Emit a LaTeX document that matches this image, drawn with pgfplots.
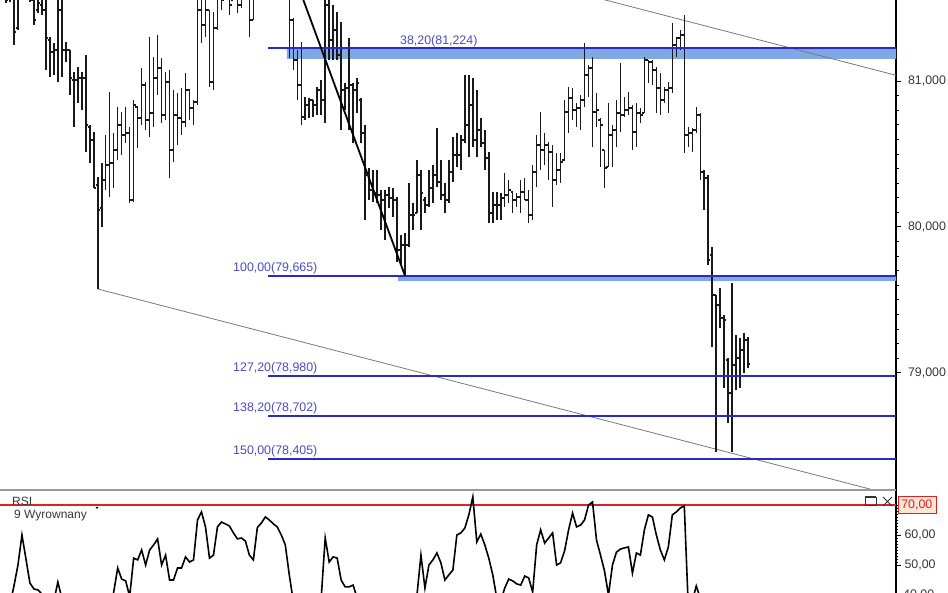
\documentclass[border=0pt]{standalone}
\usepackage{fontspec}
\setmainfont{Liberation Sans}
\usepackage{pgfplots}
\usepackage{pgfplotstable}
\pgfplotsset{compat=1.18}

\definecolor{fibline}{RGB}{40,40,205}
\definecolor{fibband}{RGB}{128,168,228}
\definecolor{fibtext}{RGB}{75,75,200}
\definecolor{channel}{RGB}{120,120,120}
\definecolor{rsired}{RGB}{220,35,35}
\definecolor{boxfill}{RGB}{253,230,214}
\definecolor{ticktext}{RGB}{55,55,55}
\definecolor{barcol}{RGB}{25,25,25}

% OHLC ticks: open to the left, close to the right
\pgfdeclareplotmark{ohlcopen}{%
  \pgfpathmoveto{\pgfqpoint{-2.2pt}{0pt}}\pgfpathlineto{\pgfqpoint{0pt}{0pt}}\pgfusepathqstroke}
\pgfdeclareplotmark{ohlcclose}{%
  \pgfpathmoveto{\pgfqpoint{0pt}{0pt}}\pgfpathlineto{\pgfqpoint{2.2pt}{0pt}}\pgfusepathqstroke}

% bar index, high, low, open, close
\pgfplotstableread{
i h l o c
0 81.693 81.569 81.610 81.638
1 81.638 81.535 81.624 81.555
2 81.693 81.542 81.569 81.658
3 81.610 81.247 81.590 81.336
4 81.658 81.350 81.363 81.624
5 81.761 81.576 81.610 81.727
6 81.747 81.590 81.727 81.624
7 81.693 81.542 81.638 81.555
8 81.610 81.384 81.555 81.418
9 81.597 81.466 81.487 81.535
10 81.576 81.453 81.521 81.487
11 81.569 81.076 81.487 81.295
12 81.302 81.027 81.281 81.199
13 81.261 81.041 81.199 81.213
14 81.590 80.993 81.213 81.487
15 81.569 81.027 81.487 81.213
16 81.267 81.130 81.213 81.213
17 81.213 80.904 81.213 81.021
18 81.062 80.685 81.007 81.007
19 81.096 80.849 81.007 81.021
20 81.062 80.801 81.021 81.021
21 81.178 80.513 81.021 80.698
22 80.698 80.438 80.685 80.596
23 80.650 80.266 80.596 80.266
24 80.342 79.574 80.287 80.116
25 80.438 79.999 80.129 80.321
26 80.630 80.253 80.321 80.424
27 80.925 80.205 80.424 80.438
28 80.644 80.266 80.438 80.527
29 80.822 80.458 80.527 80.698
30 80.788 80.493 80.698 80.630
31 80.822 80.575 80.630 80.644
32 80.685 80.164 80.644 80.184
33 80.870 80.170 80.184 80.836
34 80.822 80.541 80.822 80.746
35 81.089 80.698 80.746 80.973
36 80.993 80.664 80.973 80.733
37 81.302 80.616 80.733 80.781
38 81.165 80.685 80.781 81.021
39 81.315 80.904 81.021 81.089
40 81.158 80.712 81.089 80.767
41 81.062 80.733 80.767 80.993
42 81.076 80.335 80.993 80.527
43 80.938 80.445 80.527 80.767
44 80.918 80.561 80.767 80.746
45 80.952 80.630 80.746 80.719
46 81.055 80.685 80.719 80.938
47 80.938 80.733 80.938 80.815
48 80.870 80.698 80.815 80.856
49 81.590 80.836 80.856 81.487
50 81.624 81.261 81.487 81.384
51 81.658 81.302 81.384 81.487
52 81.487 80.959 81.487 80.993
53 81.473 80.938 80.993 81.363
54 81.624 81.350 81.363 81.590
55 81.658 81.487 81.590 81.555
56 81.727 81.569 81.590 81.693
57 81.624 81.453 81.624 81.521
58 81.693 81.555 81.555 81.658
59 81.610 81.466 81.610 81.521
60 81.658 81.501 81.521 81.624
61 81.727 81.576 81.624 81.693
62 81.624 81.302 81.624 81.418
63 81.658 81.418 81.418 81.624
64 81.830 81.590 81.624 81.795
65 81.967 81.693 81.795 81.933
66 82.104 81.795 81.933 82.070
67 82.188 81.830 82.070 81.898
68 82.070 81.761 81.898 81.830
69 82.001 81.727 81.830 81.761
70 81.933 81.658 81.761 81.693
71 81.864 81.590 81.693 81.624
72 81.693 81.158 81.624 81.418
73 81.432 81.076 81.418 81.144
74 81.213 80.870 81.144 80.973
75 81.267 80.698 80.973 80.753
76 80.890 80.733 80.753 80.836
77 80.884 80.746 80.836 80.870
78 80.870 80.753 80.870 80.836
79 80.959 80.767 80.836 80.938
80 81.007 80.767 80.938 80.870
81 81.590 80.712 80.870 81.521
82 81.610 81.144 81.521 81.281
83 81.521 81.144 81.281 81.350
84 81.473 81.144 81.350 81.178
85 81.405 80.664 81.178 80.938
86 80.986 80.801 80.938 80.952
87 81.295 80.664 80.952 80.973
88 80.986 80.575 80.973 80.938
89 81.021 80.781 80.938 80.986
90 80.884 80.575 80.870 80.644
91 80.698 80.047 80.644 80.356
92 80.404 80.184 80.356 80.253
93 80.390 80.170 80.253 80.232
94 80.390 80.164 80.232 80.218
95 80.253 79.978 80.218 80.184
96 80.253 79.910 80.184 80.218
97 80.273 80.129 80.218 80.198
98 80.266 80.068 80.198 80.184
99 80.205 79.759 80.184 79.841
100 79.944 79.738 79.841 79.876
101 79.958 79.665 79.876 79.876
102 80.301 79.862 79.876 80.081
103 80.164 79.978 80.081 80.081
104 80.458 80.095 80.095 80.356
105 80.390 79.978 80.356 80.232
106 80.205 80.095 80.184 80.150
107 80.390 80.136 80.150 80.266
108 80.424 80.164 80.266 80.356
109 80.678 80.273 80.356 80.308
110 80.458 80.184 80.308 80.218
111 80.301 80.095 80.218 80.184
112 80.458 80.164 80.184 80.376
113 80.616 80.308 80.376 80.493
114 80.644 80.410 80.493 80.493
115 80.630 80.390 80.493 80.596
116 81.041 80.575 80.596 80.698
117 81.041 80.479 80.698 80.836
118 81.021 80.548 80.836 80.596
119 80.938 80.479 80.596 80.664
120 80.746 80.548 80.664 80.575
121 80.664 80.390 80.575 80.472
122 80.513 80.026 80.472 80.095
123 80.239 80.026 80.095 80.150
124 80.239 80.047 80.150 80.150
125 80.232 80.047 80.150 80.198
126 80.369 80.136 80.198 80.218
127 80.321 80.164 80.218 80.253
128 80.239 80.095 80.239 80.184
129 80.232 80.136 80.184 80.205
130 80.321 80.095 80.205 80.239
131 80.335 80.184 80.239 80.184
132 80.253 80.026 80.184 80.081
133 80.424 80.047 80.081 80.376
134 80.630 80.273 80.376 80.561
135 80.788 80.390 80.561 80.527
136 80.644 80.424 80.527 80.561
137 80.582 80.321 80.561 80.513
138 80.561 80.136 80.513 80.321
139 80.506 80.287 80.321 80.390
140 80.506 80.301 80.390 80.445
141 80.870 80.458 80.458 80.788
142 80.959 80.644 80.788 80.884
143 80.952 80.733 80.884 80.801
144 80.849 80.685 80.801 80.815
145 80.904 80.664 80.815 80.870
146 81.261 80.822 80.870 81.041
147 81.110 80.890 81.041 81.089
148 81.165 80.548 81.089 80.788
149 80.918 80.685 80.788 80.801
150 80.746 80.410 80.733 80.698
151 80.527 80.266 80.527 80.404
152 80.849 80.410 80.410 80.630
153 80.698 80.410 80.630 80.664
154 80.870 80.548 80.664 80.781
155 81.123 80.650 80.781 80.767
156 80.890 80.753 80.767 80.801
157 80.925 80.767 80.801 80.815
158 80.836 80.527 80.815 80.650
159 80.849 80.548 80.650 80.781
160 80.815 80.712 80.781 80.767
161 81.165 80.781 80.781 81.144
162 81.144 80.986 81.144 81.130
163 81.144 80.973 81.130 81.076
164 81.096 80.781 81.076 80.952
165 81.055 80.767 80.952 80.870
166 80.959 80.849 80.870 80.938
167 80.993 80.781 80.938 80.952
168 81.398 80.918 80.952 81.247
169 81.302 81.165 81.247 81.295
170 81.350 81.213 81.295 81.315
171 81.453 80.506 81.315 80.630
172 80.685 80.548 80.630 80.644
173 80.678 80.513 80.644 80.664
174 80.822 80.644 80.664 80.767
175 80.781 80.321 80.767 80.376
176 80.390 80.116 80.376 80.335
177 80.356 79.738 80.335 79.773
178 79.862 79.176 79.807 79.533
179 79.533 78.456 79.533 79.464
180 79.581 79.307 79.464 79.375
181 79.396 78.895 79.375 79.361
182 79.101 78.655 79.087 78.861
183 79.615 78.456 78.861 79.053
184 79.259 78.881 79.053 79.101
185 79.238 78.895 79.101 79.156
186 79.272 78.998 79.156 79.224
187 79.245 79.032 79.224 79.060
}\ohlc

% RSI(9), smoothed
\pgfplotstableread{
i r
0 35
1 36
2 37
3 43
4 50
5 60
6 52
7 44
8 42
9 41.7
10 40.3
11 38
12 36
13 38
14 44.3
15 39
16 36
17 33
18 30
19 31
20 30
21 27
22 25
23 22
24 20
25 24
26 28
27 34
28 41
29 49
30 45.3
31 44.7
32 39.5
33 52.3
34 51.7
35 55
36 50
37 55
38 56.7
39 58.7
40 50
41 53.3
42 45
43 45
44 49
45 49
46 52.7
47 51
48 51.7
49 65
50 67.7
51 62.7
52 52.3
53 53.3
54 62.7
55 64.3
56 63.7
57 63
58 60.7
59 58.7
60 59
61 58
62 53.3
63 51.7
64 62.5
65 64
66 66
67 65
68 63.7
69 62.7
70 60
71 56.7
72 46.7
73 38
74 35
75 33
76 32
77 33
78 34
79 36
80 39
81 59
82 51
83 52.7
84 52.3
85 45
86 42.7
87 42.7
88 43.3
89 39
90 35
91 32
92 30
93 30
94 29
95 28
96 28
97 30
98 28
99 26
100 25
101 24
102 30
103 34
104 40
105 53.3
106 42.3
107 50
108 51.7
109 54
110 50.7
111 45
112 46.7
113 48.3
114 60
115 60.7
116 62.3
117 66.7
118 72.7
119 57.7
120 60.3
121 56.7
122 52.3
123 46.7
124 39
125 38
126 42.3
127 45.3
128 44.7
129 43.7
130 43.3
131 46.3
132 45.7
133 41
134 56.7
135 61.7
136 57.3
137 59
138 60.7
139 50
140 50.7
141 54.7
142 61.7
143 67.3
144 62.7
145 63.3
146 65
147 70
148 71
149 58.3
150 53.3
151 48
152 40
153 50
154 54.3
155 55.3
156 55.7
157 56
158 47.3
159 54
160 53.3
161 61.7
162 66.7
163 66
164 60
165 55
166 51.7
167 56
168 66.7
169 67.7
170 69
171 69.7
172 36
173 38
174 43
175 39
176 37
177 25
178 20
179 15
180 18
181 17
182 15
183 20
184 22
185 23
186 24
187 24
}\rsi

\pgfplotsset{
  panel/.style={
    scale only axis, width=896pt,
    xmin=-0.501, xmax=224.06,
    axis x line=none, axis y line=right,
    axis line style={-, black, line width=1.1pt},
    tick align=outside,
    major tick length=5pt, minor tick length=2.5pt,
    every tick/.style={black, line width=0.7pt},
    yticklabel style={font=\fontsize{12.4}{14}\selectfont, text=ticktext},
  },
}

\begin{document}
\begin{tikzpicture}
\path[use as bounding box] (0,0) rectangle (948pt,593pt);
\clip (0,0) rectangle (948pt,593pt);

% ---------- price panel ----------
\begin{axis}[panel,
  at={(0pt,103pt)}, anchor=south west, height=490pt,
  ymin=78.1958, ymax=81.5554,
  ytick={79,80,81}, yticklabels={{79,000},{80,000},{81,000}},
  minor y tick num=9,
  yticklabel style={xshift=3.5pt},
]
% Fibonacci zones
\addplot[draw=none, fill=fibband] coordinates {(71.4,81.224) (224.06,81.224) (224.06,81.151) (71.4,81.151) (71.4,81.224)};
\addplot[draw=none, fill=fibband] coordinates {(99.25,79.665) (224.06,79.665) (224.06,79.629) (99.25,79.629) (99.25,79.665)};
% trend channel
\addplot[channel, line width=0.8pt] coordinates {(24,79.574) (224.06,78.156)};
\addplot[channel, line width=0.8pt] coordinates {(67,82.152) (224.06,81.039)};
% OHLC bars
\addplot[only marks, mark=ohlcopen, barcol, mark options={line width=1.2pt},
  error bars/.cd, y dir=both, y explicit, error mark=none,
  error bar style={line width=1.5pt, barcol}]
  table[x=i, y=o, y error plus expr=\thisrow{h}-\thisrow{o}, y error minus expr=\thisrow{o}-\thisrow{l}] {\ohlc};
\addplot[only marks, mark=ohlcclose, barcol, mark options={line width=1.2pt}]
  table[x=i, y=c] {\ohlc};
% Fibonacci levels
\addplot[fibline, line width=2pt] coordinates {(66.67,81.224) (224.06,81.224)};
\addplot[fibline, line width=2pt] coordinates {(66.67,79.665) (224.06,79.665)};
\addplot[fibline, line width=2pt] coordinates {(66.67,78.980) (224.06,78.980)};
\addplot[fibline, line width=2pt] coordinates {(66.67,78.702) (224.06,78.702)};
\addplot[fibline, line width=2pt] coordinates {(66.67,78.405) (224.06,78.405)};
% swing high to swing low
\addplot[black, line width=1.8pt] coordinates {(67,82.188) (101,79.665)};

\begin{scope}[every node/.style={anchor=base west, inner sep=0pt, text=fibtext,
    font=\fontsize{12.4}{14}\selectfont}]
\node[yshift=4.3pt] at (axis cs:99.75,81.224) {38,20(81,224)};
\node[yshift=4.5pt] at (axis cs:57.9,79.665) {100,00(79,665)};
\node[yshift=4.5pt] at (axis cs:57.9,78.980) {127,20(78,980)};
\node[yshift=4.5pt] at (axis cs:57.9,78.702) {138,20(78,702)};
\node[yshift=4.5pt] at (axis cs:57.9,78.405) {150,00(78,405)};
\end{scope}
\end{axis}

% ---------- RSI panel ----------
\begin{axis}[panel,
  at={(0pt,0pt)}, anchor=south west, height=103pt,
  ymin=40.667, ymax=75,
  ytick={50,60,70}, yticklabels={{50,00},{60,00},{}},
  minor y tick num=9, minor tick length=2pt,
]
\addplot[rsired, line width=1.7pt] coordinates {(-0.501,70) (224.06,70)};
\addplot[black, line width=1.6pt] table[x=i, y=r] {\rsi};
\end{axis}

% panel separator
\draw[gray!80, line width=1.5pt] (0pt,103pt) -- (896pt,103pt);

% RSI captions and controls
\node[anchor=west, inner sep=0pt, text=ticktext, font=\fontsize{12}{14}\selectfont] at (12pt,92pt) {RSI};
\node[anchor=west, inner sep=0pt, text=ticktext, font=\fontsize{12}{14}\selectfont] at (14pt,77pt) {9 Wyrownany};
\fill[black] (95.5pt,86pt) -- (98.5pt,86pt) -- (97pt,84pt) -- cycle;
\draw[black!80, line width=0.9pt] (865pt,87.5pt) rectangle (876pt,95.5pt);
\draw[black!80, line width=2pt] (865pt,95.5pt) -- (876pt,95.5pt);
\draw[black!80, line width=1pt] (883pt,87pt) -- (892pt,96pt) (883pt,96pt) -- (892pt,87pt);
\node[draw=rsired, fill=boxfill, text=rsired, line width=0.6pt, anchor=west,
  inner xsep=3.5pt, inner ysep=3.5pt, font=\fontsize{12.4}{14}\selectfont] at (897.5pt,88pt) {70,00};
\node[anchor=west, inner sep=0pt, text=ticktext, font=\fontsize{12.4}{14}\selectfont] at (903pt,-2pt) {40,00};
\end{tikzpicture}
\end{document}
